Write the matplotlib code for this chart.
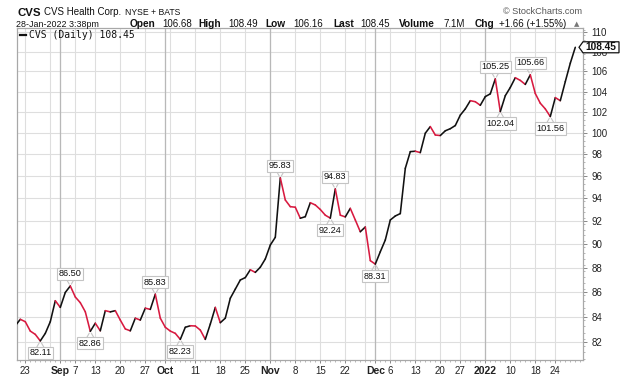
import matplotlib
matplotlib.use("Agg")
import matplotlib.pyplot as plt
import numpy as np
import pandas as pd
from matplotlib.collections import LineCollection
from matplotlib.patches import Polygon
from matplotlib.ticker import FixedLocator, NullFormatter

# ---------------- data ----------------
holidays = ['2021-09-06', '2021-11-25', '2021-12-24', '2022-01-17']
dates = pd.bdate_range('2021-08-19', '2022-01-28')
dates = dates[~dates.isin(pd.to_datetime(holidays))]

closes = [83.30, 83.81,
          83.62, 82.88, 82.62, 82.11, 82.70, 83.62, 85.30,            # Aug 23-31
          84.76, 85.97, 86.50, 85.60, 85.14, 84.41, 82.86, 83.50, 82.90, 84.50,
          84.40, 84.50, 83.75, 83.05, 82.90, 83.90, 83.75, 84.70, 84.60, 85.83, 83.90,  # Sep
          83.18, 82.88, 82.70, 82.23, 83.18, 83.30, 83.28, 82.96, 82.23, 83.43,
          84.76, 83.54, 83.90, 85.50, 86.24, 86.99, 87.19, 87.84, 87.62, 88.05, 88.74,  # Oct
          89.92, 90.58, 95.83, 93.84, 93.25, 93.20, 92.23, 92.37, 93.60, 93.40,
          93.00, 92.50, 92.24, 94.83, 92.50, 92.35, 93.10, 92.08, 91.06, 91.47, 88.60,  # Nov
          88.31, 89.35, 90.35, 92.08, 92.43, 92.64, 96.70, 98.24, 98.28, 98.15,
          99.97, 100.60, 99.80, 99.75, 100.20, 100.40, 100.70, 101.70, 102.30, 103.10,
          103.00, 102.65,                                                  # Dec
          103.50, 103.77, 105.25, 102.04, 103.59, 104.40, 105.37, 105.10, 104.70, 105.66,
          103.80, 102.85, 102.30, 101.56, 103.40, 103.10, 104.98, 106.83, 108.45]  # Jan

high_label_dates = ['2021-09-03', '2021-09-29', '2021-11-03', '2021-11-18', '2022-01-05', '2022-01-14']
low_label_dates = ['2021-08-26', '2021-09-10', '2021-10-06', '2021-11-17', '2021-12-01', '2022-01-06', '2022-01-21']

tick_dates = ['2021-08-23', '2021-09-01', '2021-09-07', '2021-09-13', '2021-09-20', '2021-09-27',
              '2021-10-01', '2021-10-11', '2021-10-18', '2021-10-25', '2021-11-01', '2021-11-08',
              '2021-11-15', '2021-11-22', '2021-12-01', '2021-12-06', '2021-12-13', '2021-12-20',
              '2021-12-27', '2022-01-03', '2022-01-10', '2022-01-18', '2022-01-24']
tick_labels = ['23', 'Sep', '7', '13', '20', '27', 'Oct', '11', '18', '25', 'Nov', '8', '15', '22',
               'Dec', '6', '13', '20', '27', '2022', '10', '18', '24']
bold_labels = ['Sep', 'Oct', 'Nov', 'Dec', '2022']
extra_grid_dates = ['2021-08-30', '2021-10-04', '2021-11-29']
month_start_dates = ['2021-09-01', '2021-10-01', '2021-11-01', '2021-12-01', '2022-01-03']
y_ticks = [82, 84, 86, 88, 90, 92, 94, 96, 98, 100, 102, 104, 106, 108, 110]

# ---------------- figure ----------------
W, H = 620, 376
fig = plt.figure(figsize=(W / 100, H / 100), dpi=100)
L, R, T, B = 16.7, 583, 28, 360
ax = fig.add_axes([L / W, 1 - B / H, (R - L) / W, (B - T) / H])

FONT = 'Liberation Sans'
pos = {d: i for i, d in enumerate(dates)}
idx0 = pos[pd.Timestamp('2021-08-23')]
def xi(d):
    return pos[pd.Timestamp(d)] - idx0

x = np.arange(len(closes)) - idx0
y = np.array(closes)

ax.set_yscale('log')
ax.set_ylim(80.64, 110.45)
ax.set_xlim(-1.72, 111.54)

# grid
for v in y_ticks:
    ax.axhline(v, color='#dedede', lw=0.8, zorder=0)
for d in tick_dates + extra_grid_dates:
    ax.axvline(xi(d), color='#dedede', lw=0.8, zorder=0)
for d in month_start_dates:
    ax.axvline(xi(d), color='#b8b8b8', lw=0.9, zorder=0.5)

# price line coloured by direction
pts = np.column_stack([x, y])
segs = np.stack([pts[:-1], pts[1:]], axis=1)
cols = ['#d81a40' if y[k + 1] < y[k] else '#111111' for k in range(len(y) - 1)]
lc = LineCollection(segs, colors=cols, linewidths=1.15, capstyle='round', joinstyle='round', zorder=3)
ax.add_collection(lc)

# annotations
def tag(d, above):
    i = xi(d)
    v = closes[i + idx0]
    s = 1 if above else -1
    ax.annotate(f'{v:.2f}', xy=(i, v), xytext=(0, s * 12), textcoords='offset pixels',
                ha='center', va='center', fontsize=6.6, family=FONT, color='#111111', zorder=6,
                bbox=dict(boxstyle='square,pad=0.18', fc='white', ec='#c4c4c4', lw=0.8))
    for sx in (-4, 4):
        ax.annotate('', xy=(i, v), xytext=(sx, s * 7), textcoords='offset pixels', zorder=5,
                    arrowprops=dict(arrowstyle='-', color='#c4c4c4', lw=0.8, shrinkA=0, shrinkB=1.5))

for d in high_label_dates:
    tag(d, True)
for d in low_label_dates:
    tag(d, False)

# axes styling
for sp in ax.spines.values():
    sp.set_color('#a8a8a8')
    sp.set_linewidth(0.9)

ax.yaxis.tick_right()
ax.yaxis.set_major_locator(FixedLocator(y_ticks))
ax.yaxis.set_minor_locator(FixedLocator(np.arange(80.75, 110.5, 0.5)))
ax.yaxis.set_minor_formatter(NullFormatter())
ax.set_yticklabels([str(v) for v in y_ticks])
ax.tick_params(axis='y', which='major', length=3, width=0.7, color='#888888', pad=3,
               labelsize=7, labelcolor='#222222')
ax.tick_params(axis='y', which='minor', length=1.5, width=0.6, color='#aaaaaa')
for lab in ax.get_yticklabels():
    lab.set_family(FONT)

ax.xaxis.set_major_locator(FixedLocator([xi(d) for d in tick_dates]))
ax.set_xticklabels(tick_labels)
ax.xaxis.set_minor_locator(FixedLocator(np.arange(-1, 112)))
ax.tick_params(axis='x', which='major', length=2, width=0.7, color='#888888', pad=2,
               labelsize=7, labelcolor='#222222')
ax.tick_params(axis='x', which='minor', length=1.5, width=0.6, color='#aaaaaa')
for lab in ax.get_xticklabels():
    lab.set_family(FONT)
    if lab.get_text() in bold_labels:
        lab.set_fontweight('bold')
        lab.set_fontsize(7.5)

# ---------------- header text ----------------
def ftext(px, py, s, **kw):
    fig.text(px / W, 1 - py / H, s, va='baseline', ha=kw.pop('ha', 'left'), family=kw.pop('family', FONT), **kw)

ftext(17, 15.5, 'CVS', fontsize=8.2, fontweight='bold', color='#111111')
ftext(44, 15, 'CVS Health Corp.', fontsize=7, color='#111111')
ftext(125, 15, 'NYSE + BATS', fontsize=6.2, color='#111111')
ftext(582, 14, '© StockCharts.com', fontsize=6.6, color='#555555', ha='right')

ftext(16, 27, '28-Jan-2022 3:38pm', fontsize=6.4, color='#111111')
row2 = [(130, 'Open', True), (162, '106.68', False),
        (198, 'High', True), (228, '108.49', False), (265, 'Low', True), (293, '106.16', False),
        (333, 'Last', True), (360, '108.45', False), (399, 'Volume', True), (443, '7.1M', False),
        (475, 'Chg', True), (499, '+1.66 (+1.55%)', False)]
for px, s, b in row2:
    if b:
        ftext(px, 27, s, fontsize=7.3, fontweight='bold', color='#111111')
    else:
        ftext(px, 27, s, fontsize=7.0, color='#111111')
ftext(574, 26.5, '▲', fontsize=5, color='#777777', family='DejaVu Sans')

# legend
fig.add_artist(plt.Line2D([20 / W, 26 / W], [1 - 35 / H, 1 - 35 / H], color='#111111', lw=1.6))
ftext(29, 38.5, 'CVS (Daily) 108.45', fontsize=7.0, color='#111111', family='DejaVu Sans Mono')

# price tag at right
last = closes[-1]
ty = ax.transData.transform((0, last))[1]
ty_px = H - ty
poly = [(579, ty_px), (583, ty_px - 5.5), (619, ty_px - 5.5), (619, ty_px + 5.5), (583, ty_px + 5.5)]
poly = [(px / W, 1 - py / H) for px, py in poly]
fig.add_artist(Polygon(poly, closed=True, fc='white', ec='#111111', lw=0.9, transform=fig.transFigure, zorder=10))
t = fig.text(601 / W, 1 - ty_px / H, f'{last:.2f}', ha='center', va='center', fontsize=7.3,
             fontweight='bold', family=FONT, color='#111111', zorder=11)

fig.savefig('out.png', dpi=100)
